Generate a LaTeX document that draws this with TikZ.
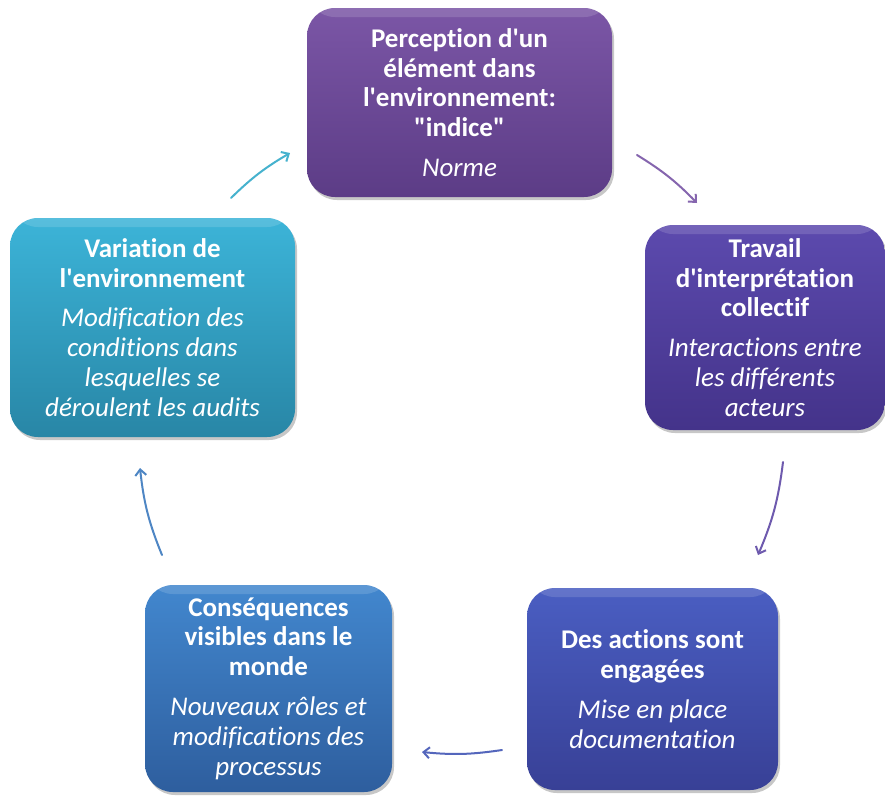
\documentclass[tikz,border=0pt]{standalone}
\usepackage{fontspec}
\setmainfont{Carlito}[Ligatures={TeXOff,NoCommon}]
\usetikzlibrary{arrows.meta,shadows}
\newcommand{\Bl}[1]{\textbf{#1}}
\newcommand{\Il}[1]{\textit{#1}}
\definecolor{c1t}{HTML}{7B56A6}\definecolor{c1b}{HTML}{5C3C86}\definecolor{a1}{HTML}{8565AE}
\definecolor{c2t}{HTML}{5C4AAE}\definecolor{c2b}{HTML}{44338A}\definecolor{a2}{HTML}{6E5AAE}
\definecolor{c3t}{HTML}{4A5EC2}\definecolor{c3b}{HTML}{384096}\definecolor{a3}{HTML}{5466BC}
\definecolor{c4t}{HTML}{4287CE}\definecolor{c4b}{HTML}{2E5E9E}\definecolor{a4}{HTML}{4E86C4}
\definecolor{c5t}{HTML}{3CB4D8}\definecolor{c5b}{HTML}{2886A6}\definecolor{a5}{HTML}{46B2CE}
\tikzset{
  box/.style={rounded corners=28pt, text=white, align=center, inner sep=0pt,
    font=\fontsize{27}{29.8}\selectfont,
    drop shadow={shadow xshift=2pt, shadow yshift=-3pt, fill=black, opacity=0.22},
    path picture={\fill[white,opacity=0.14] (path picture bounding box.north west) rectangle ([yshift=-9pt]path picture bounding box.north east);}},
  arr/.style={line width=2pt, line cap=round, -{Straight Barb[length=6pt,width=11pt,line width=2pt]}}
}
\begin{document}
\begin{tikzpicture}[x=1pt,y=-1pt]
\useasboundingbox[fill=white] (0,0) rectangle (885,796);
\node[box, top color=c1t, bottom color=c1b, minimum width=305, minimum height=189] (n1) at (459.5,102.5) {\Bl{Perception d'un}\\\Bl{élément dans}\\\Bl{l'environnement:}\\\Bl{"indice"}\\[10pt]\Il{Norme}};
\node[box, top color=c2t, bottom color=c2b, minimum width=240, minimum height=205] (n2) at (765,327.5) {\Bl{Travail}\\\Bl{d'interprétation}\\\Bl{collectif}\\[10pt]\Il{Interactions entre}\\\Il{les différents}\\\Il{acteurs}};
\node[box, top color=c3t, bottom color=c3b, minimum width=251, minimum height=202] (n3) at (652.5,689) {\Bl{Des actions sont}\\\Bl{engagées}\\[10pt]\Il{Mise en place}\\\Il{documentation}};
\node[box, top color=c4t, bottom color=c4b, minimum width=247, minimum height=207] (n4) at (268.5,688.5) {\Bl{Conséquences}\\\Bl{visibles dans le}\\\Bl{monde}\\[10pt]\Il{Nouveaux rôles et}\\\Il{modifications des}\\\Il{processus}};
\node[box, top color=c5t, bottom color=c5b, minimum width=285, minimum height=219] (n5) at (152.5,327.5) {\Bl{Variation de}\\\Bl{l'environnement}\\[10pt]\Il{Modification des}\\\Il{conditions dans}\\\Il{lesquelles se}\\\Il{déroulent les audits}};
\coordinate (a1s) at (637,155); \coordinate (a1e) at (697,203);
\coordinate (a2s) at (783,462); \coordinate (a2e) at (758,555);
\coordinate (a3s) at (502,750); \coordinate (a3e) at (422,752);
\coordinate (a4s) at (162,555); \coordinate (a4e) at (140,468);
\coordinate (a5s) at (231,198); \coordinate (a5e) at (290,153);
\draw[arr, a1] (a1s) to[bend left=7] (a1e);
\draw[arr, a2] (a2s) to[bend left=8] (a2e);
\draw[arr, a3] (a3s) to[bend left=7] (a3e);
\draw[arr, a4] (a4s) to[bend left=8] (a4e);
\draw[arr, a5] (a5s) to[bend left=7] (a5e);
\end{tikzpicture}
\end{document}
